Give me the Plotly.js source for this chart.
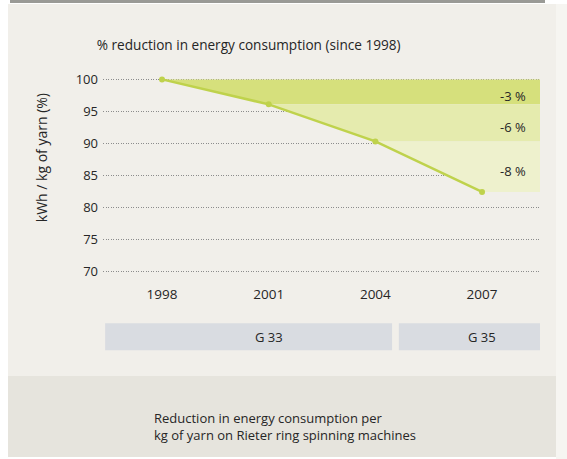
<!DOCTYPE html>
<html>
<head>
<meta charset="utf-8">
<script src="https://cdn.plot.ly/plotly-3.0.1.min.js"></script>
<style>
  html, body { margin: 0; padding: 0; background: #ffffff; width: 567px; height: 459px; overflow: hidden; }
  #topbar { position: absolute; left: 10px; top: 0; width: 535px; height: 3px; background: #9a9a96; }
  #rightbar { position: absolute; left: 556px; top: 4px; width: 11px; height: 455px; background: #f6f5f1; }
  #chart { position: absolute; left: 8px; top: 4px; width: 548px; height: 453px; }
</style>
</head>
<body>
<div id="topbar"></div>
<div id="rightbar"></div>
<div id="chart"></div>
<script>
// ---- data ----
const years = [1998, 2001, 2004, 2007];
const values = [100, 96.1, 90.3, 82.4];
const stepLabels = ['-3 %', '-6 %', '-8 %'];
const bandColors = ['#d6e07c', '#e5ebae', '#eef1cd'];
const yTicks = [70, 75, 80, 85, 90, 95, 100];
const machineNames = ['G 33', 'G 35'];
const machineStart = [1996.4, 2004.66];
const machineEnd = [2004.47, 2008.63];
const machineLabelYear = [2001, 2007];

const xRange = [1996.34, 2008.63];
const yRange = [68, 101];
const xEnd = xRange[1];
const FONT = 'Open Sans, sans-serif';
const TXT = '#262626';

const traces = [];
for (let i = 0; i < years.length - 1; i++) {
  traces.push({
    type: 'scatter', mode: 'lines',
    x: [years[i], years[i + 1], xEnd, xEnd, years[i]],
    y: [values[i], values[i + 1], values[i + 1], values[i], values[i]],
    fill: 'toself', fillcolor: bandColors[i],
    line: { width: 0, color: bandColors[i] },
    hoverinfo: 'skip', showlegend: false
  });
}
traces.push({
  type: 'scatter', mode: 'lines+markers',
  x: years, y: values,
  line: { color: '#bfd24c', width: 2.5 },
  marker: { color: '#bfd24c', size: 6 },
  showlegend: false, hoverinfo: 'skip'
});

const annotations = [];
for (let i = 0; i < stepLabels.length; i++) {
  annotations.push({
    x: xEnd, y: (values[i] + values[i + 1]) / 2 - 0.6,
    xref: 'x', yref: 'y', text: stepLabels[i], showarrow: false,
    xanchor: 'right', yanchor: 'middle', xshift: -12,
    font: { family: FONT, size: 13, color: TXT }
  });
}

const boxTop = -0.1856, boxBot = -0.3134;
const shapes = [];
// caption area
shapes.push({
  type: 'rect', xref: 'paper', yref: 'paper',
  x0: -0.2174, x1: 1.0366, y0: -0.4366, y1: -0.83,
  fillcolor: '#e6e4dd', line: { width: 0 }, layer: 'below'
});
for (let i = 0; i < machineNames.length; i++) {
  shapes.push({
    type: 'rect', xref: 'x', yref: 'paper',
    x0: machineStart[i], x1: machineEnd[i], y0: boxTop, y1: boxBot,
    fillcolor: '#d9dce1', line: { width: 0 }
  });
  annotations.push({
    x: machineLabelYear[i], y: (boxTop + boxBot) / 2, xref: 'x', yref: 'paper',
    text: machineNames[i], showarrow: false, xanchor: 'center', yanchor: 'middle',
    font: { family: FONT, size: 13, color: TXT }
  });
}
// y-axis title
annotations.push({
  x: -0.14, y: 0.6, xref: 'paper', yref: 'paper', xanchor: 'center', yanchor: 'middle',
  textangle: -90, showarrow: false, text: 'kWh / kg of yarn (%)',
  font: { family: FONT, size: 14, color: TXT }
});
// caption
annotations.push({
  x: 0.112, y: -0.675, xref: 'paper', yref: 'paper', xanchor: 'left', yanchor: 'middle',
  align: 'left', showarrow: false,
  text: 'Reduction in energy consumption per<br>kg of yarn on Rieter ring spinning machines',
  font: { family: FONT, size: 13, color: TXT }
});

const layout = {
  width: 548, height: 453,
  margin: { l: 95, r: 16, t: 68.6, b: 173.2 },
  paper_bgcolor: '#f1efea', plot_bgcolor: 'rgba(0,0,0,0)',
  font: { family: FONT, size: 13, color: TXT },
  title: {
    text: '% reduction in energy consumption (since 1998)',
    xref: 'container', yref: 'container', x: 0.162, xanchor: 'left', y: 0.909, yanchor: 'middle',
    font: { family: FONT, size: 13.6, color: TXT }
  },
  xaxis: {
    range: xRange, tickvals: years, ticktext: years.map(String),
    showgrid: false, zeroline: false, showline: false, ticks: '',
    tickfont: { size: 13.5, color: TXT }, fixedrange: true
  },
  yaxis: {
    range: yRange, tickvals: yTicks, showgrid: true, gridcolor: '#8c8c8c', griddash: '1px,1.5px', gridwidth: 1,
    zeroline: false, showline: false, ticks: '', ticklabelstandoff: 4,
    tickfont: { size: 13, color: TXT }
  },
  shapes: shapes,
  annotations: annotations,
  showlegend: false
};

Plotly.newPlot('chart', traces, layout, { staticPlot: true, displayModeBar: false });
</script>
</body>
</html>
